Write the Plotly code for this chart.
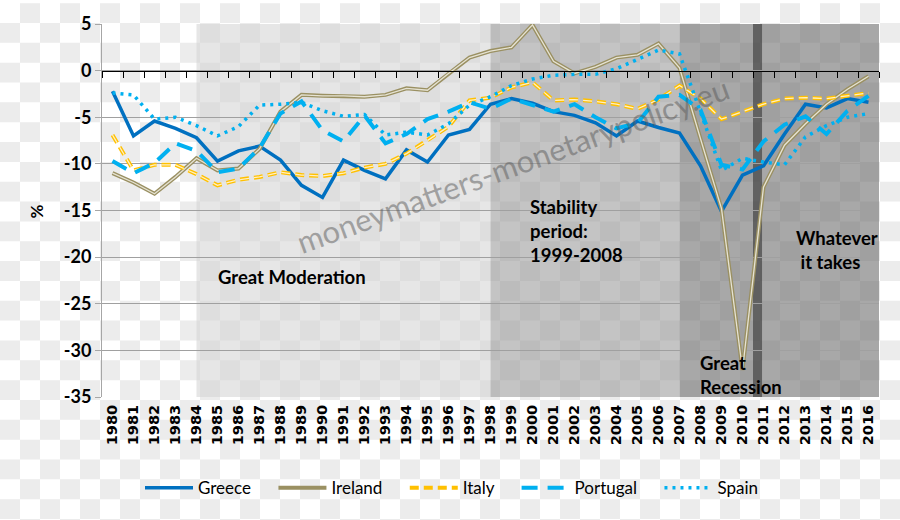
import plotly.graph_objects as go

years = [str(y) for y in range(1980, 2017)]

greece = [-2.2, -7.0, -5.4, -6.2, -7.2, -9.7, -8.6, -8.1, -9.6, -12.3,
          -13.6, -9.6, -10.7, -11.6, -8.5, -9.8, -6.9, -6.3, -3.6, -3.0,
          -3.5, -4.4, -4.8, -5.6, -7.0, -5.4, -6.1, -6.7, -10.2, -15.1,
          -11.2, -10.2, -6.8, -3.6, -4.0, -3.0, -3.4]
ireland = [-11.0, -12.0, -13.2, -11.4, -9.4, -10.7, -10.5, -8.4, -4.4, -2.6,
           -2.7, -2.7, -2.8, -2.6, -1.9, -2.1, -0.3, 1.4, 2.1, 2.5,
           4.9, 1.0, -0.3, 0.4, 1.4, 1.7, 2.9, 0.3, -7.3, -14.8,
           -32.1, -12.5, -8.0, -5.7, -3.6, -2.0, -0.6]
italy = [-6.9, -10.7, -10.1, -10.1, -11.1, -12.3, -11.7, -11.4, -10.9, -11.2,
         -11.3, -11.0, -10.4, -10.0, -8.9, -7.5, -6.0, -3.2, -2.9, -1.8,
         -1.25, -3.2, -3.1, -3.3, -3.6, -4.1, -3.1, -1.6, -3.0, -5.2,
         -4.4, -3.6, -3.0, -2.9, -3.0, -2.7, -2.4]
portugal = [-9.7, -11.0, -9.9, -7.8, -8.6, -10.9, -10.5, -8.3, -4.6, -3.3,
            -6.4, -7.6, -4.8, -7.8, -6.8, -5.2, -4.4, -3.4, -4.1, -3.0,
            -3.7, -4.4, -3.6, -5.0, -6.2, -5.6, -2.8, -2.6, -4.2, -10.1,
            -10.6, -7.6, -5.8, -4.9, -6.8, -4.3, -2.7]
spain = [-2.4, -2.6, -5.2, -5.0, -5.9, -7.0, -6.0, -3.7, -3.6, -3.4,
         -4.3, -4.9, -4.7, -6.9, -6.6, -6.9, -5.7, -3.7, -2.8, -1.6,
         -0.9, -0.5, -0.4, -0.4, 0.2, 1.2, 2.2, 1.8, -4.4, -10.7,
         -9.4, -9.8, -10.1, -7.1, -5.9, -5.0, -4.6]

y_ticks = [5, 0, -5, -10, -15, -20, -25, -30, -35]
y_ticktext = ["5", "0", "-5", "-10", "-15", "-20", "-25", "-30", "-35"]

W, H = 900, 520
ML, MR, MT, MB = 102, 21, 21, 123
PW, PH = W - ML - MR, H - MT - MB

def px_x(px):
    return (px - ML) / PW

def px_y(py):
    return (H - MB - py) / PH

PAD = "\u00a0" * 4

fig = go.Figure()

BLUE = "#0070C0"
LBLUE = "#00B0F0"

fig.add_trace(go.Scatter(x=years, y=greece, name="Greece" + PAD, mode="lines",
                         line=dict(color=BLUE, width=3.5)))
fig.add_trace(go.Scatter(x=years, y=ireland, name="Ireland" + PAD, mode="lines",
                         legendgroup="ie",
                         line=dict(color="#9A9062", width=4)))
fig.add_trace(go.Scatter(x=years, y=ireland, name="Ireland", mode="lines",
                         legendgroup="ie", showlegend=False, hoverinfo="skip",
                         line=dict(color="#E6E3D4", width=1.3)))
fig.add_trace(go.Scatter(x=years, y=italy, name="Italy" + PAD, mode="lines",
                         legendgroup="it",
                         line=dict(color="#FFC000", width=4, dash="9px,5px")))
fig.add_trace(go.Scatter(x=years, y=italy, name="Italy", mode="lines",
                         legendgroup="it", showlegend=False, hoverinfo="skip",
                         line=dict(color="#FFF0C4", width=1.3, dash="9px,5px")))
fig.add_trace(go.Scatter(x=years, y=portugal, name="Portugal" + PAD, mode="lines",
                         line=dict(color=LBLUE, width=4, dash="16px,10px")))
fig.add_trace(go.Scatter(x=years, y=spain, name="Spain", mode="lines",
                         line=dict(color=LBLUE, width=3.5, dash="3px,5px")))

# helper trace to carry the zero-crossing axis (tick marks at y=0)
fig.add_trace(go.Scatter(x=years, y=greece, xaxis="x2", mode="lines",
                         line=dict(width=0), opacity=0, showlegend=False,
                         hoverinfo="skip"))

# checkerboard background
parts = []
for r in range(0, (H // 20) + 1):
    for c in range(0, (W // 20) + 1):
        if (r + c) % 2 == 1:
            x0, x1 = px_x(c * 20), px_x(c * 20 + 20)
            y0, y1 = px_y(r * 20), px_y(r * 20 + 20)
            parts.append(f"M{x0:.5f},{y0:.5f}H{x1:.5f}V{y1:.5f}H{x0:.5f}Z")
shapes = [dict(type="path", xref="paper", yref="paper", path="".join(parts),
               fillcolor="#ECECEC", line=dict(width=0), layer="below")]

# period shading (category index positions)
regions = [
    (4, 18, "#D5D5D5"),
    (18, 27, "#9D9D9D"),
    (27, 36.5, "#6E6E6E"),
    (30.5, 30.93, "#333333"),
]
for x0, x1, col in regions:
    shapes.append(dict(type="rect", xref="x", yref="y", x0=x0, x1=x1,
                       y0=-35, y1=5, fillcolor=col, opacity=0.6,
                       line=dict(width=0), layer="below"))

ann_font = dict(family="Lato", size=18.5, color="black", weight="bold")
annotations = [
    dict(x=4.93, y=-22.1, xref="x", yref="y", text="Great Moderation",
         showarrow=False, xanchor="left", yanchor="middle", font=ann_font),
    dict(x=19.79, y=-17.2, xref="x", yref="y",
         text="Stability<br>period:<br>1999-2008", align="left",
         showarrow=False, xanchor="left", yanchor="middle", font=ann_font),
    dict(x=32.45, y=-19.2, xref="x", yref="y",
         text="Whatever<br> it takes", align="left",
         showarrow=False, xanchor="left", yanchor="middle", font=ann_font),
    dict(x=27.88, y=-32.6, xref="x", yref="y",
         text="Great<br>Recession", align="left",
         showarrow=False, xanchor="left", yanchor="middle", font=ann_font),
    dict(x=px_x(512), y=px_y(163), xref="paper", yref="paper",
         text="moneymatters-monetarypolicy.eu", textangle=-20,
         showarrow=False, xanchor="center", yanchor="middle",
         font=dict(family="Lato", size=31, color="rgba(90,90,90,0.5)")),
    dict(x=px_x(36), y=px_y(210), xref="paper", yref="paper", text="%",
         textangle=-90, showarrow=False, xanchor="center", yanchor="middle",
         font=dict(family="Lato", size=17, color="black", weight="bold")),
]

fig.update_layout(
    width=W, height=H,
    margin=dict(l=ML, r=MR, t=MT, b=MB, pad=0),
    paper_bgcolor="white",
    plot_bgcolor="rgba(0,0,0,0)",
    shapes=shapes,
    annotations=annotations,
    showlegend=True,
    legend=dict(orientation="h", x=px_x(452), y=px_y(489),
                xanchor="center", yanchor="middle",
                font=dict(family="Lato", size=17, color="black"),
                bgcolor="rgba(0,0,0,0)", itemwidth=48),
    xaxis=dict(type="category", categoryorder="array", categoryarray=years,
               range=[-0.5, 36.5], tickangle=-90, showgrid=False,
               showline=False, ticks="", zeroline=False,
               tickfont=dict(family="DejaVu Sans", size=14.5, color="black",
                             weight="bold"),
               ticklabelstandoff=4),
    xaxis2=dict(type="category", categoryorder="array", categoryarray=years,
                range=[-0.5, 36.5], overlaying="x", anchor="free",
                position=(0 - (-35)) / 40, showticklabels=False,
                showgrid=False, showline=True, linecolor="black", linewidth=1,
                ticks="outside", tickson="boundaries", ticklen=6,
                tickcolor="black", tickwidth=1, zeroline=False),
    yaxis=dict(range=[-35, 5], tickvals=y_ticks, ticktext=y_ticktext,
               showgrid=True,
               gridcolor="#A0A0A0", gridwidth=1, zeroline=False,
               showline=True, linecolor="#A6A6A6", linewidth=1,
               ticks="outside", ticklen=6, tickcolor="#A6A6A6",
               tickfont=dict(family="Lato", size=18, color="black",
                             weight="bold")),
)

fig.write_html("out.html")
